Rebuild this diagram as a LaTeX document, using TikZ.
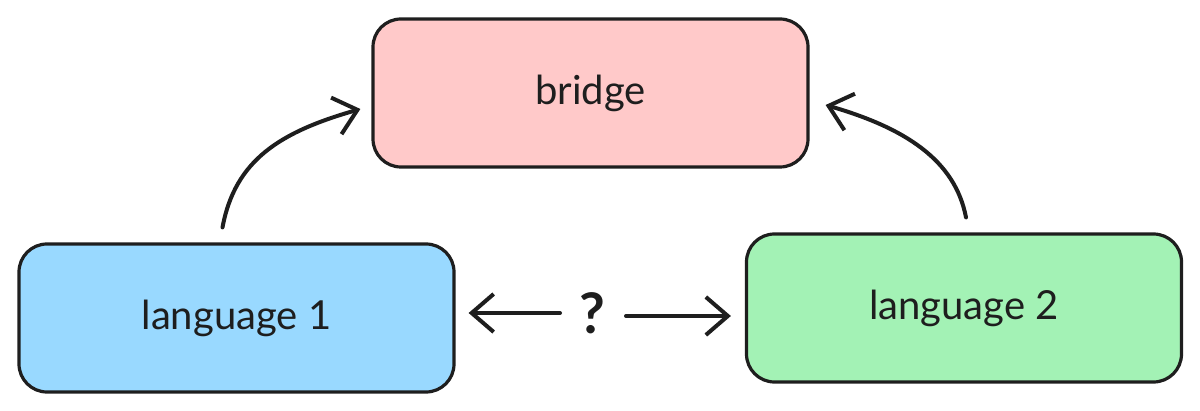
\documentclass[tikz,border=0pt]{standalone}
\usepackage{fontspec}
\setmainfont{Lato}
\usetikzlibrary{arrows.meta}
\definecolor{ink}{HTML}{1E1E1E}
\definecolor{pinkfill}{HTML}{FFC9C9}
\definecolor{bluefill}{HTML}{99D9FF}
\definecolor{greenfill}{HTML}{A3F2B5}
\begin{document}
\begin{tikzpicture}[x=0.5pt,y=-0.5pt,
  box/.style={draw=ink, line width=1.6pt, rounded corners=14pt, minimum width=217.5pt, minimum height=74pt, inner sep=0pt, font=\fontsize{20}{24}\selectfont, text=ink},
  arr/.style={draw=ink, line width=2pt, line cap=round, -{Straight Barb[length=11pt,width=19pt,line width=2pt]}}]
\useasboundingbox (0,0) rectangle (1200,411);
\node[box, fill=pinkfill] (bridge) at (590.5,93) {bridge};
\node[box, fill=bluefill] (l1) at (236.5,318) {language 1};
\node[box, fill=greenfill] (l2) at (964,308) {language 2};
\node[font=\fontsize{28}{30}\selectfont\bfseries, text=ink, inner sep=0pt] (q) at (592,313) {?};
\draw[arr] ([shift={(-14,-15)}]l1.north) .. controls (235,160) and (280,132) .. ([shift={(-11,16)}]bridge.west);
\draw[arr] ([shift={(2,-15)}]l2.north) .. controls (955,160) and (905,128) .. ([shift={(16,12)}]bridge.east);
\draw[arr] ([shift={(-32,0)}]q.center) -- ([shift={(13,-5)}]l1.east);
\draw[arr] ([shift={(34,3)}]q.center) -- ([shift={(-14,8)}]l2.west);
\end{tikzpicture}
\end{document}
